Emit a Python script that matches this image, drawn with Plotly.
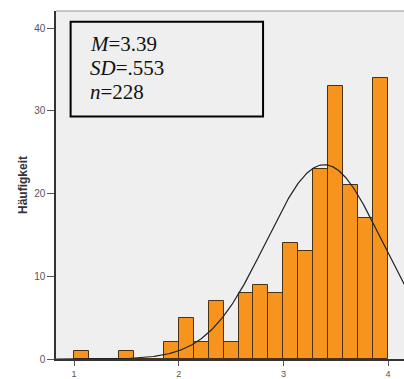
import numpy as np
import plotly.graph_objects as go

# Histogram data (bins of width 1/7 from 1 to 4)
bin_start = 1.0
bin_width = 1.0 / 7.0
counts = [1, 0, 0, 1, 0, 0, 2, 5, 2, 7, 2, 8, 9, 8, 14, 13, 23, 33, 21, 17, 34]

# Summary statistics
mean_val = 3.39
sd_val = 0.553
n_val = 228

y_ticks = [0, 10, 20, 30, 40]
x_ticks = [1, 2, 3, 4]

stat_lines = ["<i>M</i>=3.39", "<i>SD</i>=.553", "<i>n</i>=228"]

centers = [bin_start + bin_width * (i + 0.5) for i in range(len(counts))]

# normal curve scaled to counts
xs = np.linspace(0.83, 4.2, 400)
ys = n_val * bin_width / (sd_val * np.sqrt(2 * np.pi)) * np.exp(-0.5 * ((xs - mean_val) / sd_val) ** 2)

fig = go.Figure()
fig.add_trace(go.Bar(
    x=centers, y=counts, width=bin_width,
    marker=dict(color="#F7941E", line=dict(color="#4a3210", width=1)),
    showlegend=False,
))
fig.add_trace(go.Scatter(
    x=xs, y=ys, mode="lines",
    line=dict(color="#222222", width=1.2),
    showlegend=False,
))

line_y = [0.904, 0.836, 0.768]
annotations = [
    dict(xref="paper", yref="paper", x=0.092, y=yy, xanchor="left", yanchor="middle",
         align="left", showarrow=False, text=t,
         font=dict(family="Liberation Serif, Times New Roman", size=21, color="#111111"))
    for t, yy in zip(stat_lines, line_y)
]

fig.update_layout(
    width=404, height=379,
    margin=dict(l=56, r=0, t=11, b=14, pad=0),
    paper_bgcolor="white",
    plot_bgcolor="#efefef",
    bargap=0,
    xaxis=dict(
        range=[0.828, 4.152], tickvals=x_ticks, ticktext=[str(v) for v in x_ticks],
        showgrid=False, zeroline=False, showline=True, linecolor="#333333", linewidth=1.5,
        ticks="outside", ticklen=5, tickcolor="#555555",
        tickfont=dict(family="Arial, Liberation Sans", size=9, color="#555555"),
    ),
    yaxis=dict(
        range=[0, 42.08], tickvals=y_ticks, ticktext=[str(v) for v in y_ticks],
        showgrid=False, zeroline=False, showline=True, linecolor="#333333", linewidth=1.5,
        ticks="outside", ticklen=7, tickcolor="#555555",
        tickfont=dict(family="Arial, Liberation Sans", size=10, color="#555555"),
        title=dict(text="<b>Häufigkeit</b>", standoff=4,
                   font=dict(family="Arial, Liberation Sans", size=12, color="#333333")),
    ),
    shapes=[
        dict(type="line", xref="paper", yref="paper", x0=0, x1=1, y0=1, y1=1,
             line=dict(color="#999999", width=1)),
        dict(type="rect", xref="paper", yref="paper", x0=0.042, x1=0.595, y0=0.697, y1=0.969,
             line=dict(color="black", width=2), fillcolor="#efefef", layer="above"),
    ],
    annotations=annotations,
)

fig.write_html(
    "out.html",
    config={"displayModeBar": False},
    post_script="document.body.style.margin='0px';document.body.style.overflow='hidden';",
)
